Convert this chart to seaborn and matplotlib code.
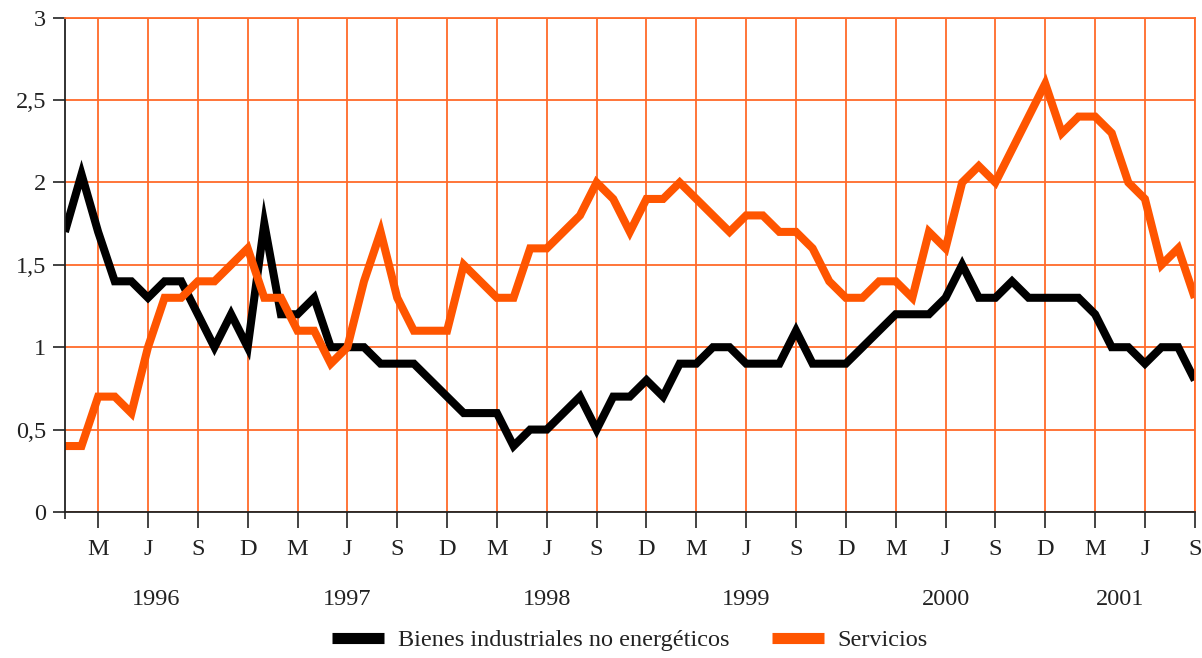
import numpy as np
import pandas as pd
import seaborn as sns
import matplotlib.pyplot as plt
from matplotlib.lines import Line2D

# monthly values, Jan 1996 .. Sep 2001
bienes = [
    1.7, 2.05, 1.7, 1.4, 1.4, 1.3, 1.4, 1.4, 1.2, 1.0, 1.2, 1.0,
    1.75, 1.2, 1.2, 1.3, 1.0, 1.0, 1.0, 0.9, 0.9, 0.9, 0.8, 0.7,
    0.6, 0.6, 0.6, 0.4, 0.5, 0.5, 0.6, 0.7, 0.5, 0.7, 0.7, 0.8,
    0.7, 0.9, 0.9, 1.0, 1.0, 0.9, 0.9, 0.9, 1.1, 0.9, 0.9, 0.9,
    1.0, 1.1, 1.2, 1.2, 1.2, 1.3, 1.5, 1.3, 1.3, 1.4, 1.3, 1.3,
    1.3, 1.3, 1.2, 1.0, 1.0, 0.9, 1.0, 1.0, 0.8,
]
servicios = [
    0.4, 0.4, 0.7, 0.7, 0.6, 1.0, 1.3, 1.3, 1.4, 1.4, 1.5, 1.6,
    1.3, 1.3, 1.1, 1.1, 0.9, 1.0, 1.4, 1.7, 1.3, 1.1, 1.1, 1.1,
    1.5, 1.4, 1.3, 1.3, 1.6, 1.6, 1.7, 1.8, 2.0, 1.9, 1.7, 1.9,
    1.9, 2.0, 1.9, 1.8, 1.7, 1.8, 1.8, 1.7, 1.7, 1.6, 1.4, 1.3,
    1.3, 1.4, 1.4, 1.3, 1.7, 1.6, 2.0, 2.1, 2.0, 2.2, 2.4, 2.6,
    2.3, 2.4, 2.4, 2.3, 2.0, 1.9, 1.5, 1.6, 1.3,
]
series_names = ["Bienes industriales no energéticos", "Servicios"]
month_letters = ["M", "J", "S", "D"]
years = ["1996", "1997", "1998", "1999", "2000", "2001"]
year_pos = [5.5, 17, 29, 41, 53, 63.5]
y_ticks = [0, 0.5, 1, 1.5, 2, 2.5, 3]
y_labels = ["0", "0,5", "1", "1,5", "2", "2,5", "3"]

months = np.arange(len(bienes))
df = pd.DataFrame({
    "mes": np.concatenate([months, months]),
    "valor": bienes + servicios,
    "serie": [series_names[0]] * len(bienes) + [series_names[1]] * len(servicios),
})

sns.set_style("white")
plt.rcParams["font.family"] = ["Liberation Serif", "DejaVu Serif"]

grid_color = "#ff6a2a"
text_color = "#222222"
fs = 17.5
palette = {series_names[0]: "#000000", series_names[1]: "#ff5500"}

fig = plt.figure(figsize=(12.02, 6.58), dpi=100)
ax = fig.add_axes([0.054, 0.222, 0.94, 0.751])

sns.lineplot(data=df, x="mes", y="valor", hue="serie", palette=palette,
             linewidth=5.8, legend=False, ax=ax,
             solid_joinstyle="miter", solid_capstyle="butt")

ax.set_xlim(0, len(bienes) - 1)
ax.set_ylim(0, 3)

# month ticks every quarter (M, J, S, D)
xt = np.arange(2, len(bienes), 3)
ax.set_xticks(xt)
ax.set_xticklabels([month_letters[i % 4] for i in range(len(xt))])
ax.set_xticks([0], minor=True)
ax.set_yticks(y_ticks)
ax.set_yticklabels(y_labels)

ax.tick_params(axis="x", which="major", bottom=True, length=11.5, width=1.2,
               color=text_color, labelsize=fs, labelcolor=text_color, pad=8)
ax.tick_params(axis="x", which="minor", bottom=True, length=5, width=1.2,
               color=text_color)
ax.tick_params(axis="y", left=True, length=8.5, width=1.2, color=text_color,
               labelsize=fs, labelcolor=text_color, pad=5)
ax.set_xlabel("")
ax.set_ylabel("")

ax.grid(True, color=grid_color, linewidth=1.3)
ax.set_axisbelow(True)
for side in ["left", "bottom"]:
    ax.spines[side].set_color(text_color)
    ax.spines[side].set_linewidth(1.3)
for side in ["top", "right"]:
    ax.spines[side].set_color(grid_color)
    ax.spines[side].set_linewidth(1.3)

for yr, pos in zip(years, year_pos):
    ax.text(pos, -0.178, yr, transform=ax.get_xaxis_transform(),
            ha="center", va="center", fontsize=fs, color=text_color)

handles = [Line2D([0], [0], color=palette[n], linewidth=8, solid_capstyle="butt")
           for n in series_names]
fig.legend(handles, series_names, loc="center", bbox_to_anchor=(0.524, 0.027),
           ncol=2, frameon=False, fontsize=fs, handlelength=2.15,
           columnspacing=1.75, handletextpad=0.55, labelcolor=text_color)

fig.savefig("out.png", dpi=100)
